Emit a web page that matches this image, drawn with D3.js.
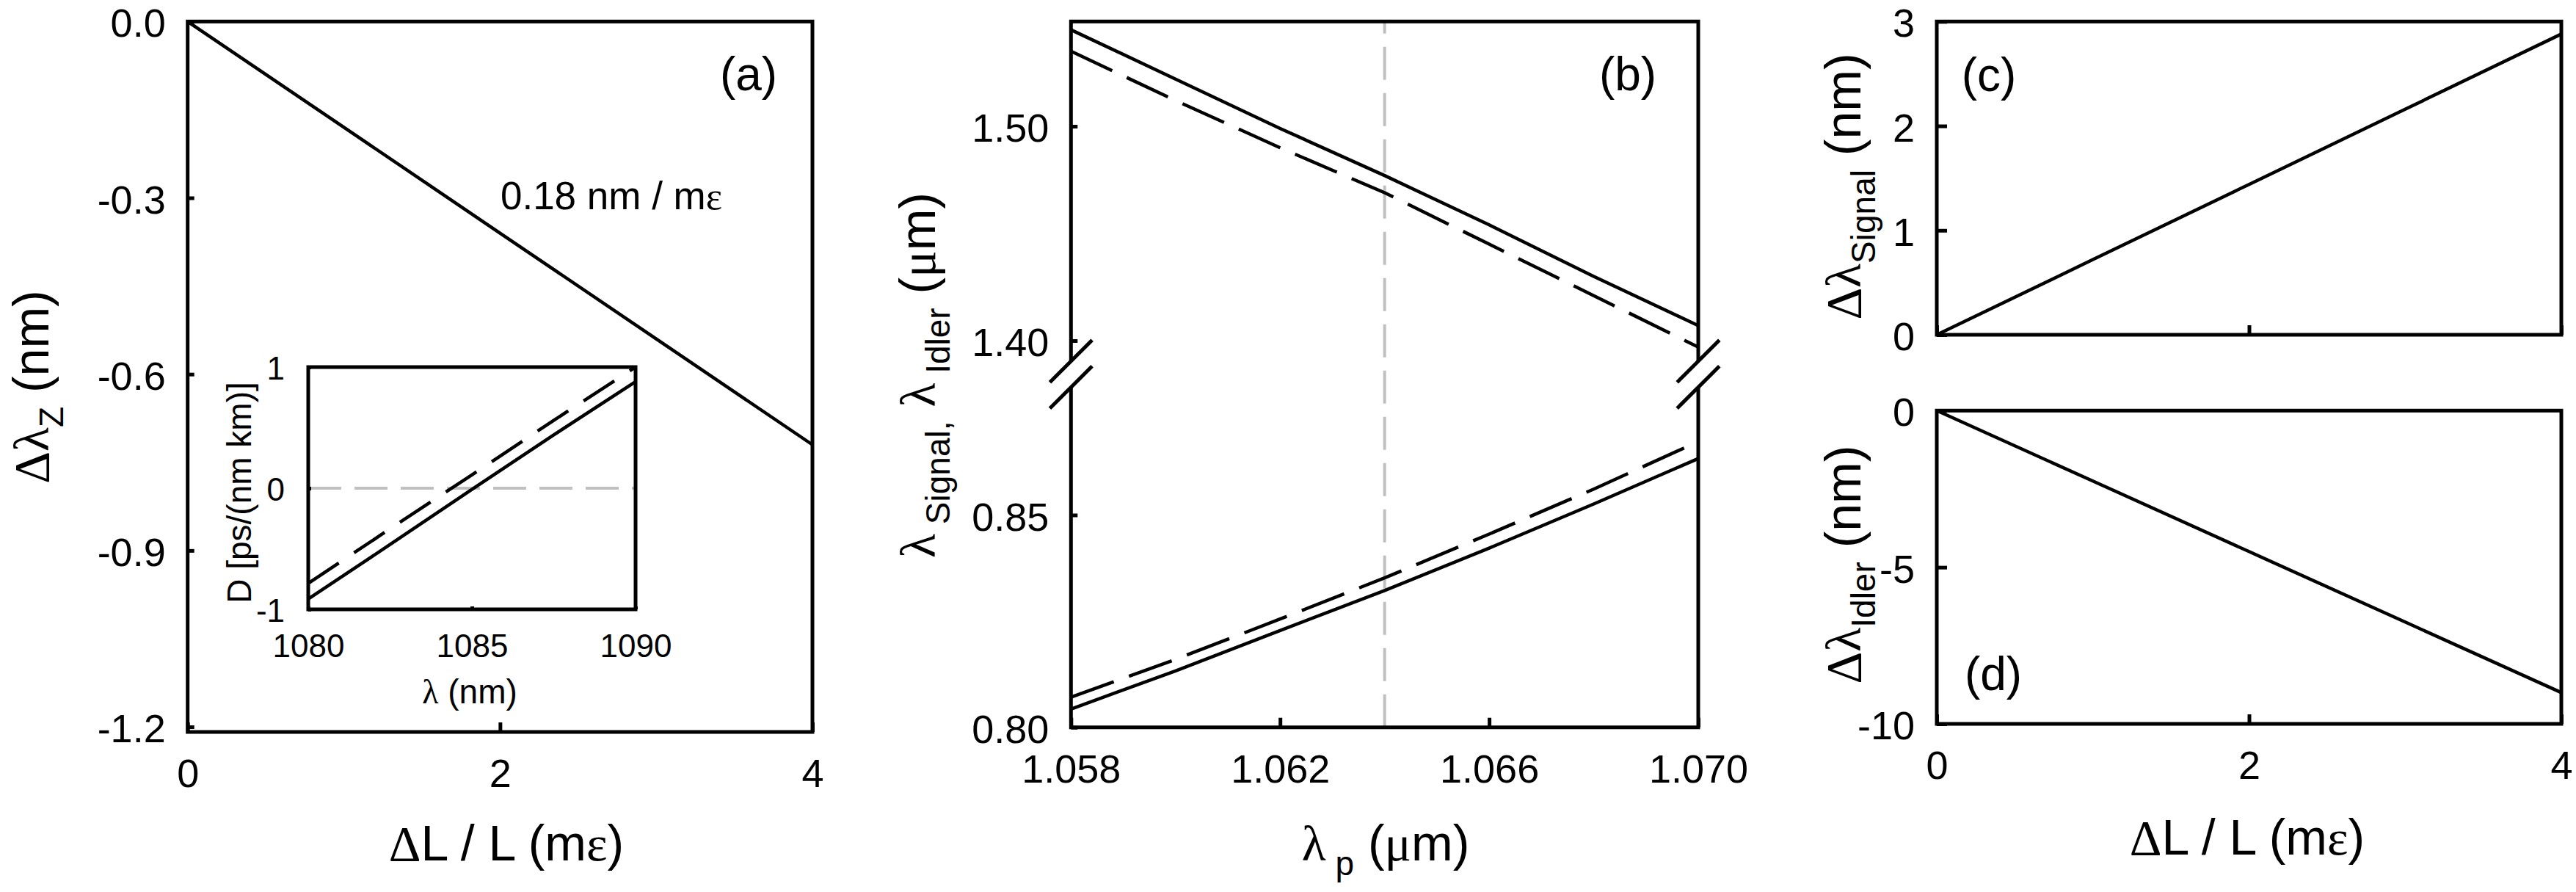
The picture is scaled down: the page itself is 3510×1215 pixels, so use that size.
<!DOCTYPE html>
<html><head><meta charset="utf-8">
<script src="https://cdn.jsdelivr.net/npm/d3@7"></script>
<style>html,body{margin:0;padding:0;background:#fff}</style>
</head><body>
<svg id="chart" width="3510" height="1215"></svg>
<script>
// ---------------- data ----------------
// (a) zero-dispersion wavelength shift vs strain
const strainA = [0, 1, 2, 3, 4];
const dLambdaZ = [0, -0.18, -0.36, -0.54, -0.72];
const ticksAx = [0, 2, 4];
const ticksAy = [0, -0.3, -0.6, -0.9, -1.2];
// (a) inset: dispersion
const insetLambda = [1080, 1082.5, 1085, 1087.5, 1090];
const insetDsolid = [-0.915, -0.465, -0.01, 0.44, 0.88];
const insetDdashed = [-0.785, -0.335, 0.11, 0.56, 1.0];
const insetTicksX = [1080, 1085, 1090];
const insetTicksY = [-1, 0, 1];
// (b) signal / idler vs pump wavelength
const pumpLambda = [1.058, 1.060, 1.062, 1.064, 1.066, 1.068, 1.070];
const idlerSolid = [1.545, 1.522, 1.499, 1.477, 1.454, 1.430, 1.407];
const idlerDashed = [1.535, 1.512, 1.490, 1.469, 1.445, 1.421, 1.397];
const signalSolid = [0.8043, 0.8133, 0.8228, 0.8322, 0.8422, 0.8526, 0.8633];
const signalDashed = [0.8071, 0.8160, 0.8255, 0.8352, 0.8455, 0.8561, 0.8673];
const pumpMarker = 1.064;
const ticksBx = [1.058, 1.062, 1.066, 1.070];
const ticksByUpper = [1.40, 1.50];
const ticksByLower = [0.80, 0.85];
// (c), (d) signal / idler shift vs strain
const strainCD = [0, 1, 2, 3, 4];
const dSignal = [0, 0.72, 1.44, 2.16, 2.88];
const dIdler = [0, -2.25, -4.5, -6.75, -9.0];
const ticksCDx = [0, 2, 4];
const ticksCy = [0, 1, 2, 3];
const ticksDy = [-10, -5, 0];

// ---------------- drawing ----------------
const svg = d3.select('#chart');
svg.append('rect').attr('width', 3510).attr('height', 1215).attr('fill', '#fff');
const FONT = "'Liberation Sans', Arial, Helvetica, sans-serif";
const GREEK = "'Liberation Serif', 'DejaVu Serif', serif";
const TICKFS = 54, TITLEFS = 68, SUBFS = 46;
const FRAMEW = 5, LINEW = 4.5;
const hy = s => s.replace('\u2212', '-');

function axis(gen, tx, ty, ticks, fmt, size, pad, fs, left) {
  const g = svg.append('g').attr('transform', `translate(${tx},${ty})`)
    .call(gen.tickValues(ticks).tickFormat(fmt).tickSizeInner(-size).tickSizeOuter(0).tickPadding(pad));
  g.select('.domain').remove();
  g.selectAll('.tick line').attr('stroke', '#000').attr('stroke-width', FRAMEW);
  g.selectAll('.tick text').attr('font-family', FONT).attr('font-size', fs).attr('fill', '#000');
  if (left) g.selectAll('.tick text').attr('dy', '0.38em');
  return g;
}
function frame(x0, x1, y0, y1) {
  svg.append('rect').attr('x', x0).attr('y', y0).attr('width', x1 - x0).attr('height', y1 - y0)
    .attr('fill', 'none').attr('stroke', '#000').attr('stroke-width', FRAMEW);
}
function path(xs, ys, x, y, dash) {
  const line = d3.line().x(d => x(d[0])).y(d => y(d[1]));
  const p = svg.append('path').datum(xs.map((v, i) => [v, ys[i]]))
    .attr('d', line).attr('fill', 'none').attr('stroke', '#000').attr('stroke-width', LINEW)
    .attr('stroke-linejoin', 'round');
  if (dash) p.attr('stroke-dasharray', dash);
  return p;
}
// parts = [[text, kind]] kind: 'n' normal, 'g' greek, 's' subscript
function title(x, y, rot, parts, fs, sub) {
  const t = svg.append('text').attr('font-family', FONT).attr('font-size', fs).attr('fill', '#000')
    .attr('text-anchor', 'middle')
    .attr('transform', `translate(${x},${y}) rotate(${rot})`);
  let shifted = 0;
  parts.forEach(([s, k]) => {
    const sp = t.append('tspan').text(s);
    if (k === 'g') sp.attr('font-family', GREEK);
    let target = 0;
    if (k === 's') { sp.attr('font-size', sub || SUBFS); target = fs * 0.3; }
    if (target !== shifted) { sp.attr('dy', target - shifted); shifted = target; }
  });
  return t;
}
function label(x, y, s) {
  svg.append('text').attr('x', x).attr('y', y).attr('text-anchor', 'middle')
    .attr('font-family', FONT).attr('font-size', 64).text(s);
}

// ===== Panel (a) =====
const aL = 255.7, aR = 1107, aT = 29.3, aB = 997;
const xA = d3.scaleLinear().domain([0, 4]).range([aL, aR]);
const yA = d3.scaleLinear().domain([-1.2087, 0]).range([aB, aT]);
path(strainA, dLambdaZ, xA, yA);
axis(d3.axisBottom(xA), 0, aB, ticksAx, d => String(d), 13, 37, TICKFS);
axis(d3.axisLeft(yA), aL, 0, ticksAy, d => hy(d3.format('.1f')(d)), 9, 30, TICKFS, true);
frame(aL, aR, aT, aB);
svg.append('text').attr('x', 833).attr('y', 285).attr('text-anchor', 'middle')
  .attr('font-family', FONT).attr('font-size', 53).text('0.18 nm / m')
  .append('tspan').attr('font-family', GREEK).text('\u03b5');
label(1020, 123, '(a)');
title(690, 1172, 0, [['\u0394', 'g'], ['L / L (m', 'n'], ['\u03b5', 'g'], [')', 'n']], TITLEFS);
title(66, 527, -90, [['\u0394\u03bb', 'g'], ['Z', 's'], [' (nm)', 'n']], TITLEFS);

// inset
const iL = 420, iR = 866, iT = 500, iB = 830;
svg.append('rect').attr('x', iL).attr('y', iT).attr('width', iR - iL).attr('height', iB - iT).attr('fill', '#fff');
const xI = d3.scaleLinear().domain([1080, 1090]).range([iL, iR]);
const yI = d3.scaleLinear().domain([-1, 1]).range([iB, iT]);
svg.append('line').attr('x1', xI(1080)).attr('x2', xI(1090)).attr('y1', yI(0)).attr('y2', yI(0))
  .attr('stroke', '#c0c0c0').attr('stroke-width', 4).attr('stroke-dasharray', '45,18');
path(insetLambda, insetDsolid, xI, yI);
path(insetLambda, insetDdashed, xI, yI, '50,25');
axis(d3.axisBottom(xI), 0, iB, insetTicksX, d => String(d), 4, 34, 44);
axis(d3.axisLeft(yI), iL, 0, insetTicksY, d => hy(String(d)), 4, 32, 44, true);
frame(iL, iR, iT, iB);
title(640, 958, 0, [['\u03bb', 'g'], [' (nm)', 'n']], 46);
title(342, 671, -90, [['D [ps/(nm km)]', 'n']], 46);

// ===== Panel (b) =====
const bL = 1459.3, bR = 2314, bT = 29.3, bB = 990.7;
const bUpBottom = 492, bLoTop = 527.5;
const xB = d3.scaleLinear().domain([1.058, 1.070]).range([bL, bR]);
const yBu = d3.scaleLinear().domain([1.40, 1.50]).range([464, 172]);
const yBl = d3.scaleLinear().domain([0.80, 0.85]).range([bB, 701.5]);
svg.append('line').attr('x1', xB(pumpMarker)).attr('x2', xB(pumpMarker)).attr('y1', bB).attr('y2', bT)
  .attr('stroke', '#c0c0c0').attr('stroke-width', 4).attr('stroke-dasharray', '45,18');
path(pumpLambda, idlerSolid, xB, yBu);
path(pumpLambda, idlerDashed, xB, yBu, '62,22');
path(pumpLambda, signalSolid, xB, yBl);
path(pumpLambda, signalDashed, xB, yBl, '62,22');
axis(d3.axisBottom(xB), 0, bB, ticksBx, d => d3.format('.3f')(d), 13, 37, TICKFS);
axis(d3.axisLeft(yBu), bL, 0, ticksByUpper, d => d3.format('.2f')(d), 9, 30, TICKFS, true);
axis(d3.axisLeft(yBl), bL, 0, ticksByLower, d => d3.format('.2f')(d), 9, 30, TICKFS, true);
const fr = svg.append('g').attr('stroke', '#000').attr('stroke-width', FRAMEW).attr('fill', 'none');
fr.append('path').attr('d', `M${bL},${bUpBottom}V${bT}H${bR}V${bUpBottom}`);
fr.append('path').attr('d', `M${bL},${bLoTop}V${bB}H${bR}V${bLoTop}`);
[bL, bR].forEach(ax => {
  [bUpBottom, bLoTop].forEach(cy => {
    fr.append('line').attr('x1', ax - 28.8).attr('y1', cy + 28.7).attr('x2', ax + 28.8).attr('y2', cy - 28.7);
  });
});
label(2218, 123, '(b)');
title(1888, 1172, 0, [['\u03bb', 'g'], [' p', 's'], [' (', 'n'], ['\u03bc', 'g'], ['m)', 'n']], TITLEFS);
title(1274, 511, -90, [['\u03bb', 'g'], [' Signal,', 's'], [' ', 'n'], ['\u03bb', 'g'], [' Idler', 's'], [' (', 'n'], ['\u03bc', 'g'], ['m)', 'n']], TITLEFS);

// ===== Panels (c) and (d) =====
const cL = 2639, cR = 3490, cT = 29.3, cB = 456, dT = 559.3, dB = 986;
const xC = d3.scaleLinear().domain([0, 4]).range([cL, cR]);
const yC = d3.scaleLinear().domain([0, 3]).range([cB, cT]);
const yD = d3.scaleLinear().domain([-10, 0]).range([dB, dT]);
path(strainCD, dSignal, xC, yC);
path(strainCD, dIdler, xC, yD);
axis(d3.axisBottom(xC), 0, cB, ticksCDx, () => '', 13, 37, TICKFS);
axis(d3.axisLeft(yC), cL, 0, ticksCy, d => String(d), 14, 30, TICKFS, true);
axis(d3.axisBottom(xC), 0, dB, ticksCDx, d => String(d), 13, 37, TICKFS);
axis(d3.axisLeft(yD), cL, 0, ticksDy, d => hy(String(d)), 14, 30, TICKFS, true);
frame(cL, cR, cT, cB);
frame(cL, cR, dT, dB);
label(2710, 124, '(c)');
label(2716, 940, '(d)');
title(3062, 1164, 0, [['\u0394', 'g'], ['L / L (m', 'n'], ['\u03b5', 'g'], [')', 'n']], TITLEFS);
title(2535, 254, -90, [['\u0394\u03bb', 'g'], ['Signal', 's'], [' (nm)', 'n']], TITLEFS);
title(2535, 769, -90, [['\u0394\u03bb', 'g'], ['Idler', 's'], [' (nm)', 'n']], TITLEFS);
</script>
</body></html>
